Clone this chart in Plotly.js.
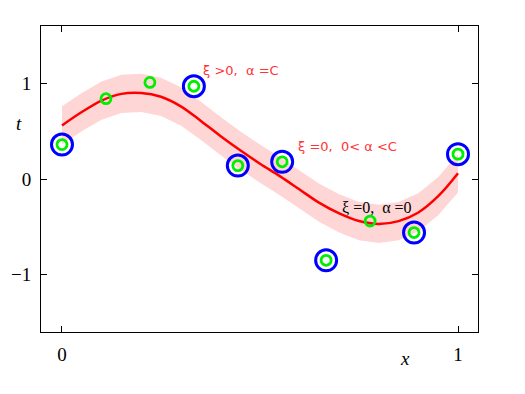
<!DOCTYPE html>
<html>
<head>
<meta charset="utf-8">
<script src="https://cdn.plot.ly/plotly-3.0.1.min.js"></script>
<style>html,body{margin:0;padding:0;background:#fff;}#chart{width:525px;height:394px;}</style>
</head>
<body>
<div id="chart"></div>
<script>
// data points
const dataX = [0, 0.111, 0.222, 0.333, 0.444, 0.556, 0.667, 0.778, 0.889, 1.0];
const dataT = [0.36, 0.84, 1.01, 0.97, 0.14, 0.18, -0.85, -0.44, -0.56, 0.26];
// support vectors (blue rings)
const svX = [0, 0.333, 0.444, 0.556, 0.667, 0.889, 1.0];
const svT = [0.36, 0.97, 0.14, 0.18, -0.85, -0.56, 0.26];
// regression curve
const curveX = [0, 0.05, 0.1, 0.15, 0.2, 0.25, 0.3, 0.35, 0.4, 0.45, 0.5, 0.55, 0.6, 0.65, 0.7, 0.75, 0.8, 0.85, 0.9, 0.95, 1.0];
const curveY = [0.56, 0.70, 0.82, 0.89, 0.90, 0.86, 0.76, 0.61, 0.45, 0.30, 0.16, 0.03, -0.11, -0.25, -0.36, -0.44, -0.47, -0.44, -0.35, -0.18, 0.06];
const epsilon = 0.2;
const xTickVals = [0, 1];
const xTickText = ['0', '1'];
const yTickVals = [-1, 0, 1];
const yTickText = ['\u22121', '0', '1'];

const upper = curveY.map(v => v + epsilon);
const lower = curveY.map(v => v - epsilon);
const bandX = curveX.concat(curveX.slice().reverse());
const bandY = upper.concat(lower.slice().reverse());

const traces = [
  {x: bandX, y: bandY, type: 'scatter', mode: 'lines', fill: 'toself',
   fillcolor: 'rgb(255,214,214)', line: {width: 0, color: 'rgba(0,0,0,0)'}, hoverinfo: 'skip'},
  {x: curveX, y: curveY, type: 'scatter', mode: 'lines', line: {color: '#ff0000', width: 2.5, shape: 'spline'}},
  {x: svX, y: svT, type: 'scatter', mode: 'markers', cliponaxis: false,
   marker: {symbol: 'circle-open', size: 21, color: '#0000ff', line: {width: 3, color: '#0000ff'}}},
  {x: dataX, y: dataT, type: 'scatter', mode: 'markers', cliponaxis: false,
   marker: {symbol: 'circle-open', size: 10, color: '#00ee00', line: {width: 2.8, color: '#00ee00'}}}
];

const serif = 'Liberation Serif, Times New Roman, serif';
const layout = {
  width: 525, height: 394,
  margin: {l: 41, r: 47, t: 26, b: 62},
  paper_bgcolor: '#fff', plot_bgcolor: '#fff',
  showlegend: false,
  xaxis: {range: [-0.053, 1.0505], tickvals: xTickVals, ticktext: xTickText,
    ticks: 'inside', ticklen: 6, tickcolor: '#000', showgrid: false, zeroline: false,
    showline: true, linecolor: '#000', linewidth: 1, mirror: 'ticks',
    tickfont: {family: serif, size: 19, color: '#000'}, ticklabelstandoff: 5},
  yaxis: {range: [-1.6, 1.6], tickvals: yTickVals, ticktext: yTickText,
    ticks: 'inside', ticklen: 6, tickcolor: '#000', showgrid: false, zeroline: false,
    showline: true, linecolor: '#000', linewidth: 1, mirror: 'ticks',
    tickfont: {family: serif, size: 19, color: '#000'}, ticklabelstandoff: 5},
  annotations: [
    {x: -0.062, y: 0.722, xref: 'paper', yref: 'paper', text: '<i>t</i>', showarrow: false,
     font: {family: serif, size: 19, color: '#000'}},
    {x: 0.849, y: -0.127, xref: 'paper', yref: 'paper', text: '<i>x</i>', showarrow: false,
     font: {family: serif, size: 19, color: '#000'}},
    {x: 0.351, y: 1.13, xref: 'x', yref: 'y', xanchor: 'left', text: '\u03be >0,  \u03b1 =C', showarrow: false,
     font: {family: 'DejaVu Sans, sans-serif', size: 13, color: '#ff3333'}},
    {x: 0.591, y: 0.345, xref: 'x', yref: 'y', xanchor: 'left', text: '\u03be =0,  0< \u03b1 <C', showarrow: false,
     font: {family: 'DejaVu Sans, sans-serif', size: 13, color: '#ff3333'}},
    {x: 0.702, y: -0.30, xref: 'x', yref: 'y', xanchor: 'left', text: '\u03be =0,  \u03b1 =0', showarrow: false,
     font: {family: serif, size: 16, color: '#000'}}
  ]
};
Plotly.newPlot('chart', traces, layout, {displayModeBar: false, staticPlot: true});
</script>
</body>
</html>
